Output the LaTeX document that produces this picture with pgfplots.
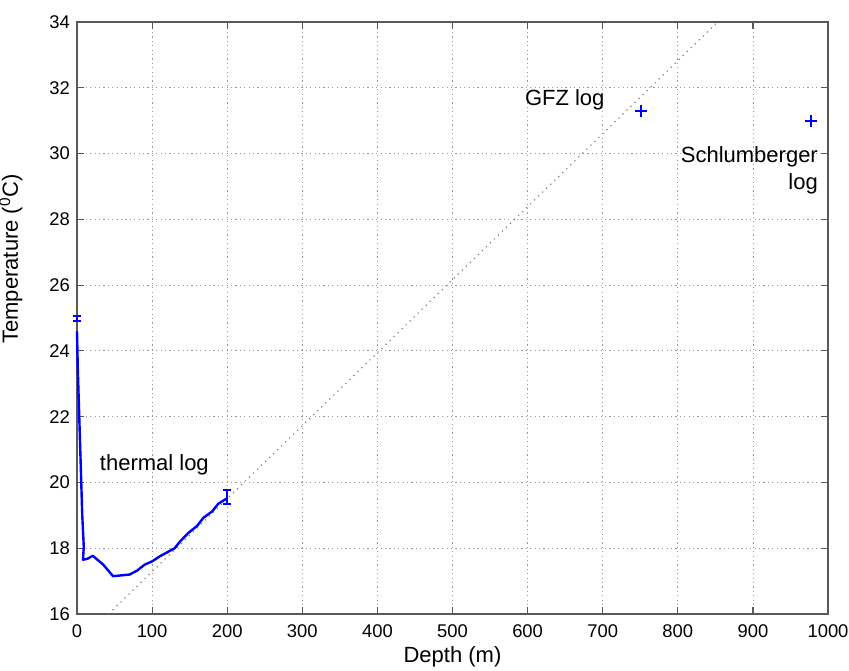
\documentclass[border=0pt]{standalone}
\usepackage{fontspec}
\setmainfont{Liberation Sans}
\usepackage{pgfplots}
\pgfplotsset{compat=1.18}

\definecolor{mblue}{RGB}{0,0,255}

\begin{document}
\begin{tikzpicture}
  \begin{axis}[
    name=ax,
    scale only axis,
    width=375.5pt, height=296pt,
    xmin=0, xmax=1000, ymin=16, ymax=34,
    xtick={0,100,...,1000},
    ytick={16,18,...,34},
    grid=major,
    major grid style={gray!80, dash pattern=on 0.6pt off 1.6pt, line width=0.4pt},
    axis line style={gray!70!black, line width=0.6pt},
    tick style={gray!70!black, line width=0.6pt},
    tick align=inside,
    major tick length=3.5pt,
    xtick pos=both, ytick pos=both,
    /pgf/number format/assume math mode=true,
    /pgf/number format/1000 sep={},
    tick label style={font=\fontsize{9.2}{11}\selectfont},
    xticklabel style={yshift=-2pt},
    label style={font=\fontsize{11}{13}\selectfont},
    xlabel={Depth (m)},
    ylabel={Temperature (\textsuperscript{0}C)},
    xlabel style={at={(axis description cs:0.5,-0.0726)}, anchor=center},
    ylabel style={at={(axis description cs:-0.088,0.6)}, anchor=center},
    clip=false,
  ]
    % gradient line
    \addplot[gray, line width=0.6pt, dash pattern=on 0.6pt off 2.2pt]
      coordinates {(42,16) (853,34)};

    % thermal log
    \addplot[mblue, line width=1.2pt, line join=round]
      coordinates {
        (0,24.6) (1,23.5) (3,22) (5,20.5) (7,19) (9,18.05) (8,17.65)
        (14,17.68) (21,17.77) (35,17.5) (48,17.15) (70,17.2) (80,17.32)
        (90,17.5) (100,17.6) (110,17.75) (130,18.0) (137,18.2) (148,18.46)
        (160,18.68) (168,18.92) (180,19.12) (188,19.35) (200,19.52)
      };

    % error bars at the ends
    \addplot[mblue, line width=0.9pt, draw=none,
      error bars/.cd, y dir=both, y explicit,
      error bar style={mblue, line width=0.9pt},
      error mark options={rotate=90, mblue, mark size=2pt, line width=0.9pt}]
      coordinates {
        (200,19.56) +- (0,0.21)
        (0,24.98) +- (0,0.07)
      };

    % GFZ and Schlumberger logs
    \addplot[only marks, mark=+, mblue, mark size=3pt, line width=0.9pt]
      coordinates {(751,31.3) (977,31.0)};

    \node[anchor=west, inner sep=0pt, font=\fontsize{11}{13}\selectfont] at (axis cs:30,20.54) {thermal log};
    \node[anchor=west, inner sep=0pt, font=\fontsize{11}{13}\selectfont] at (axis cs:596,31.63) {GFZ log};
    \node[anchor=east, align=right, font=\fontsize{11}{13.5}\selectfont, inner sep=0pt]
      at (axis cs:987,29.5) {Schlumberger\\log};
  \end{axis}
  \pgfresetboundingbox
  \path ([shift={(-38.5pt,-28pt)}]ax.south west) rectangle ([shift={(10.5pt,11pt)}]ax.north east);
\end{tikzpicture}
\end{document}
